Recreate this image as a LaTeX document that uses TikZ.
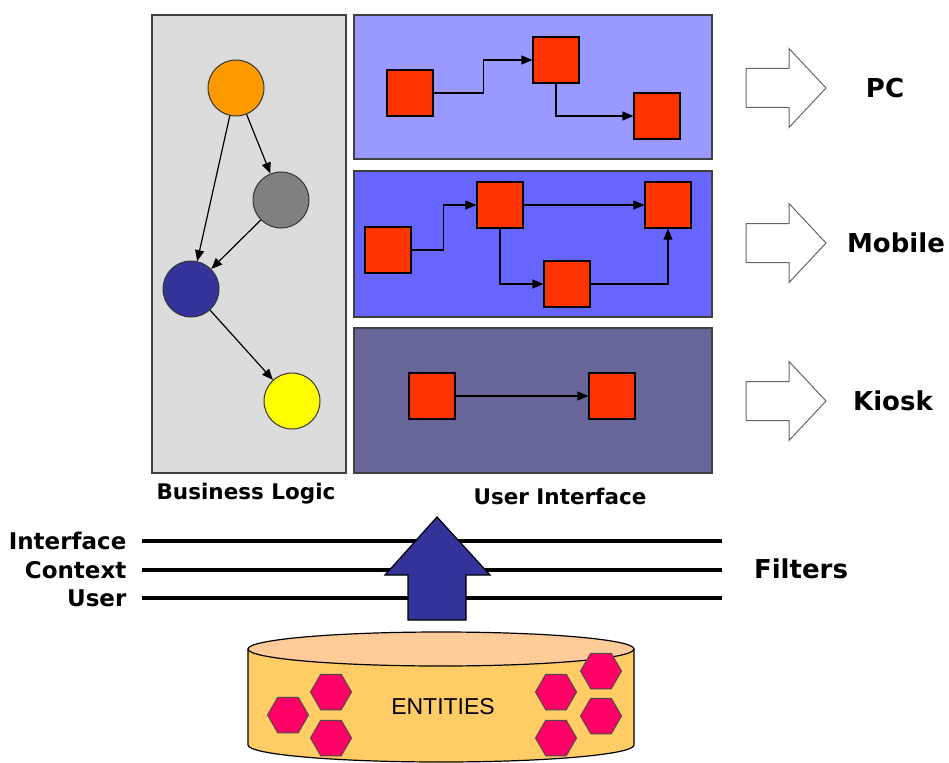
\documentclass[tikz,border=0pt]{standalone}
\usepackage{fontspec}
\setmainfont{DejaVu Sans}
\newfontfamily\entfont{Liberation Sans}
\usetikzlibrary{arrows.meta,shapes.geometric}
\definecolor{blgray}{HTML}{DCDCDC}
\definecolor{uione}{HTML}{9999FF}
\definecolor{uitwo}{HTML}{6666FF}
\definecolor{uithree}{HTML}{666699}
\definecolor{sqred}{HTML}{FF3300}
\definecolor{dorange}{HTML}{FF9900}
\definecolor{dgray}{HTML}{808080}
\definecolor{dblue}{HTML}{333399}
\definecolor{dyellow}{HTML}{FFFF00}
\definecolor{hexpink}{HTML}{FF0066}
\definecolor{cylbody}{HTML}{FFCC66}
\definecolor{cyltop}{HTML}{FFCC99}
\tikzset{>/.tip={Triangle[length=11pt,width=9pt]},
  panel/.style={draw=black!75,line width=1.5pt},
  dot/.style={circle,draw=black!80,minimum size=56pt,inner sep=0pt,line width=1pt},
  sq/.style={draw=black,fill=sqred,minimum size=46pt,inner sep=0pt,line width=1.2pt},
  hex/.style={regular polygon,regular polygon sides=6,minimum size=41pt,inner sep=0pt,draw=black!70,fill=hexpink,line width=1pt},
  blockarrow/.style={draw=black!60,fill=white,line width=1pt},
  big/.style={font=\bfseries\fontsize{26}{30}\selectfont},
  caption/.style={font=\bfseries\fontsize{21.5}{26}\selectfont},
  side/.style={font=\bfseries\fontsize{23}{28}\selectfont,anchor=east,inner sep=0pt}}

\begin{document}
\begin{tikzpicture}[x=1pt,y=-1pt,line width=1.2pt]
\useasboundingbox (0,0) rectangle (949,762);
\draw[panel,fill=blgray] (152,15) rectangle (346,473);
\draw[panel,fill=uione] (354,15) rectangle (712,159);
\draw[panel,fill=uitwo] (354,171) rectangle (712,317);
\draw[panel,fill=uithree] (354,328) rectangle (712,473);

\node[dot,fill=dorange] (o) at (236,88)  {};
\node[dot,fill=dgray]   (g) at (281,200) {};
\node[dot,fill=dblue]   (b) at (191,289) {};
\node[dot,fill=dyellow] (y) at (292,401) {};
\draw[->] (o) -- (g);
\draw[->] (o) -- (b);
\draw[->] (g) -- (b);
\draw[->] (b) -- (y);

\node[sq] (a1) at (410,93)  {};
\node[sq] (a2) at (556,60)  {};
\node[sq] (a3) at (657,116) {};
\draw[->] (a1.east) -- ++(50,0) |- (a2.west);
\draw[->] (a2.south) |- (a3.west);

\node[sq] (b1) at (388,250) {};
\node[sq] (b2) at (500,205) {};
\node[sq] (b3) at (668,205) {};
\node[sq] (b4) at (567,284) {};
\draw[->] (b1.east) -- ++(32,0) |- (b2.west);
\draw[->] (b2) -- (b3);
\draw[->] (b2.south) |- (b4.west);
\draw[->] (b4.east) -| (b3.south);

\node[sq] (c1) at (432,396) {};
\node[sq] (c2) at (612,396) {};
\draw[->] (c1) -- (c2);

\node[caption] (bl) at (246,494) {Business Logic};
\node[caption] (ui) at (560,496) {User Interface};

\foreach \y/\x/\t/\n in {88/885/PC/pc, 243/896/Mobile/mob, 401/893/Kiosk/kio}
{
  \draw[blockarrow] (746,{\y-19.5}) -- (789,{\y-19.5}) -- (789,{\y-39.5}) -- (826,\y)
    -- (789,{\y+39.5}) -- (789,{\y+19.5}) -- (746,{\y+19.5}) -- cycle;
  \node[big] (\n) at (\x,\y) {\t};
}

\foreach \y/\t/\n in {541/Interface/fi, 570/Context/fc, 598/User/fu}
{
  \node[side] (\n) at (127,\y) {\t};
  \draw[line width=4pt] (142,\y) -- (722,\y);
}
\node[big] (filt) at (801,569) {Filters};

\draw[fill=dblue,line width=1.2pt] (408,620) -- (408,575) -- (385,575) -- (437,517)
  -- (490,575) -- (466,575) -- (466,620) -- cycle;

\draw[fill=cylbody] (248,649) -- (248,745) arc[start angle=180,end angle=0,x radius=193,y radius=17]
  -- (634,649);
\draw[fill=cyltop] (441,649) ellipse[x radius=193,y radius=17];
\node[font=\entfont\fontsize{23}{28}\selectfont] (ent) at (443,707) {ENTITIES};
\foreach \x/\y/\n in {288/715/h1, 331/692/h2, 331/738/h3, 556/692/h4, 601/671/h5, 601/716/h6, 556/738/h7}
  \node[hex] (\n) at (\x,\y) {};
\end{tikzpicture}
\end{document}
